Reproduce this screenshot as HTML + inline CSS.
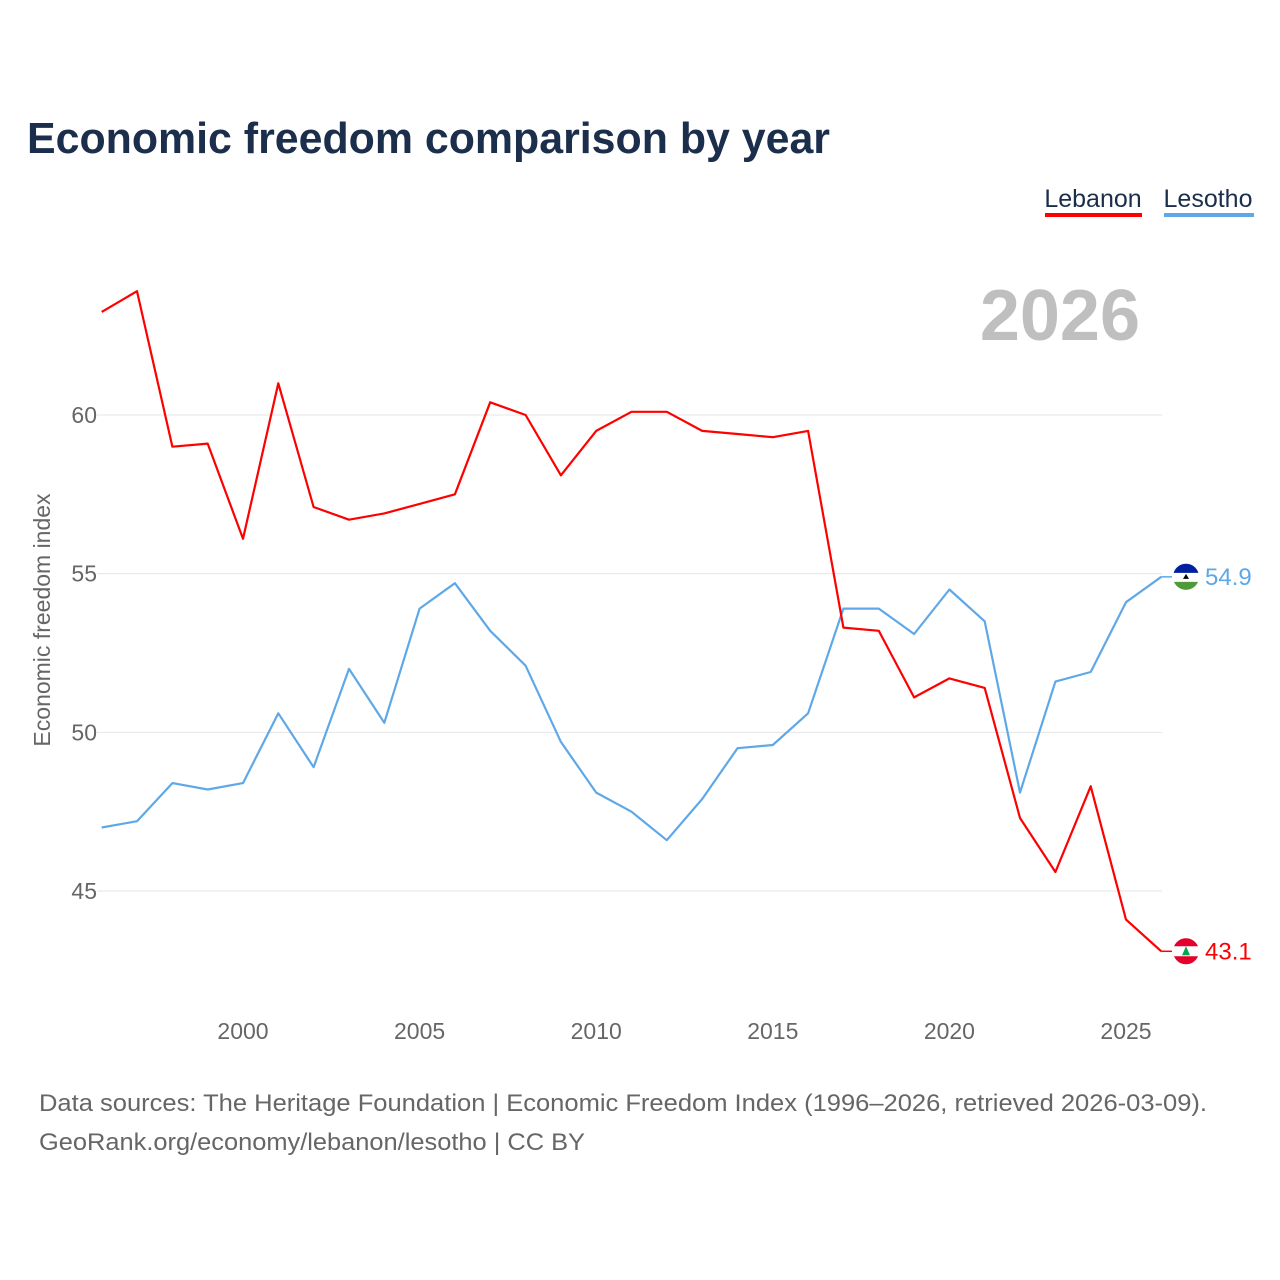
<!DOCTYPE html>
<html><head><meta charset="utf-8"><style>
body{margin:0;background:#fff;font-family:"Liberation Sans",sans-serif}
svg{display:block}
</style></head><body>
<svg id="chart" width="1280" height="1280" viewBox="0 0 1280 1280">
<text x="27" y="153" font-size="44" font-weight="bold" fill="#1b2e4b" textLength="803" lengthAdjust="spacingAndGlyphs">Economic freedom comparison by year</text>
<g><text x="1093" y="207" font-size="25" fill="#1b2e4b" text-anchor="middle">Lebanon</text><rect x="1045" y="213" width="97" height="4" fill="#ff0000"/></g>
<g><text x="1208" y="207" font-size="25" fill="#1b2e4b" text-anchor="middle">Lesotho</text><rect x="1164" y="213" width="90" height="4" fill="#5fa8e8"/></g>
<text x="1140" y="340" font-size="72" font-weight="bold" fill="#bfbfbf" text-anchor="end">2026</text>
<g id="grid"></g><g id="xticks"></g><g id="lines"></g>
<text transform="translate(50,620) rotate(-90)" font-size="23" fill="#666" text-anchor="middle">Economic freedom index</text>
<text x="39" y="1111" font-size="24" fill="#666" textLength="1168" lengthAdjust="spacingAndGlyphs">Data sources: The Heritage Foundation | Economic Freedom Index (1996–2026, retrieved 2026-03-09).</text>
<text x="39" y="1150" font-size="24" fill="#666" textLength="546" lengthAdjust="spacingAndGlyphs">GeoRank.org/economy/lebanon/lesotho | CC BY</text>
</svg>
<script>
const years=[1996,1997,1998,1999,2000,2001,2002,2003,2004,2005,2006,2007,2008,2009,2010,2011,2012,2013,2014,2015,2016,2017,2018,2019,2020,2021,2022,2023,2024,2025,2026];
const lebanon=[63.25,63.9,59.0,59.1,56.1,61.0,57.1,56.7,56.9,57.2,57.5,60.4,60.0,58.1,59.5,60.1,60.1,59.5,59.4,59.3,59.5,53.3,53.2,51.1,51.7,51.4,47.3,45.6,48.3,44.1,43.1];
const lesotho=[47.0,47.2,48.4,48.2,48.4,50.6,48.9,52.0,50.3,53.9,54.7,53.2,52.1,49.7,48.1,47.5,46.6,47.9,49.5,49.6,50.6,53.9,53.9,53.1,54.5,53.5,48.1,51.6,51.9,54.1,54.9];
const yTicks=[45,50,55,60];
const xTicks=[2000,2005,2010,2015,2020,2025];
const NS="http://www.w3.org/2000/svg";
const xS=y=>243+(y-2000)*(1126-243)/25;
const yS=v=>415+(60-v)*(891-415)/15;
function mk(tag,at,parent){const e=document.createElementNS(NS,tag);for(const k in at)e.setAttribute(k,at[k]);parent.appendChild(e);return e;}
const grid=document.getElementById('grid');
yTicks.forEach(t=>{
 const l=mk('line',{x1:97,x2:1162,y1:yS(t),y2:yS(t),stroke:'#e6e6e6','stroke-width':1},grid);
 
 
 const tx=mk('text',{x:97,y:yS(t)+8,'font-size':23,fill:'#666','text-anchor':'end'},grid);
 tx.textContent=t;
 
 
});
const xt=document.getElementById('xticks');
xTicks.forEach(t=>{
 const tx=mk('text',{x:xS(t),y:1039,'font-size':23,fill:'#666','text-anchor':'middle'},xt);
 tx.textContent=t;
 
 
});
const lines=document.getElementById('lines');
function series(vals,color,name){
 const d=vals.map((v,i)=>(i?'L':'M')+xS(years[i]).toFixed(1)+','+yS(v).toFixed(1)).join('');
 const p=mk('path',{d:d,fill:'none',stroke:color,'stroke-width':2.2,'stroke-linejoin':'round'},lines);
 
 
 const last=vals[vals.length-1],ly=yS(last),lx=xS(years[years.length-1]);
 const g=mk('g',{},lines);
 
 
 mk('line',{x1:lx,x2:1172,y1:ly,y2:ly,stroke:color,'stroke-width':1.5},g);
 const cx=1186,r=13;
 if(name==='lebanon'){
  mk('circle',{cx:cx,cy:ly,r:r,fill:'#fff'},g);
  mk('path',{d:`M${cx-12},${ly-5}A${r},${r} 0 0 1 ${cx+12},${ly-5}Z`,fill:'#e4002b'},g);
  mk('path',{d:`M${cx-12},${ly+5}A${r},${r} 0 0 0 ${cx+12},${ly+5}Z`,fill:'#e4002b'},g);
  mk('path',{d:`M${cx},${ly-5}L${cx+4},${ly+4}L${cx-4},${ly+4}Z`,fill:'#00a651'},g);
 }else{
  mk('circle',{cx:cx,cy:ly,r:r,fill:'#fff'},g);
  mk('path',{d:`M${cx-12.4},${ly-4}A${r},${r} 0 0 1 ${cx+12.4},${ly-4}Z`,fill:'#00209f'},g);
  mk('path',{d:`M${cx-12},${ly+5}A${r},${r} 0 0 0 ${cx+12},${ly+5}Z`,fill:'#4f9a3b'},g);
  mk('path',{d:`M${cx-3},${ly+2}L${cx+3},${ly+2}L${cx},${ly-3}Z`,fill:'#000'},g);
 }
 const t=mk('text',{x:1205,y:ly+8,'font-size':24,fill:color},lines);
 t.textContent=last.toFixed(1);
 
 
}
series(lesotho,'#5fa8e8','lesotho');
series(lebanon,'#ff0000','lebanon');
</script>
</body></html>
